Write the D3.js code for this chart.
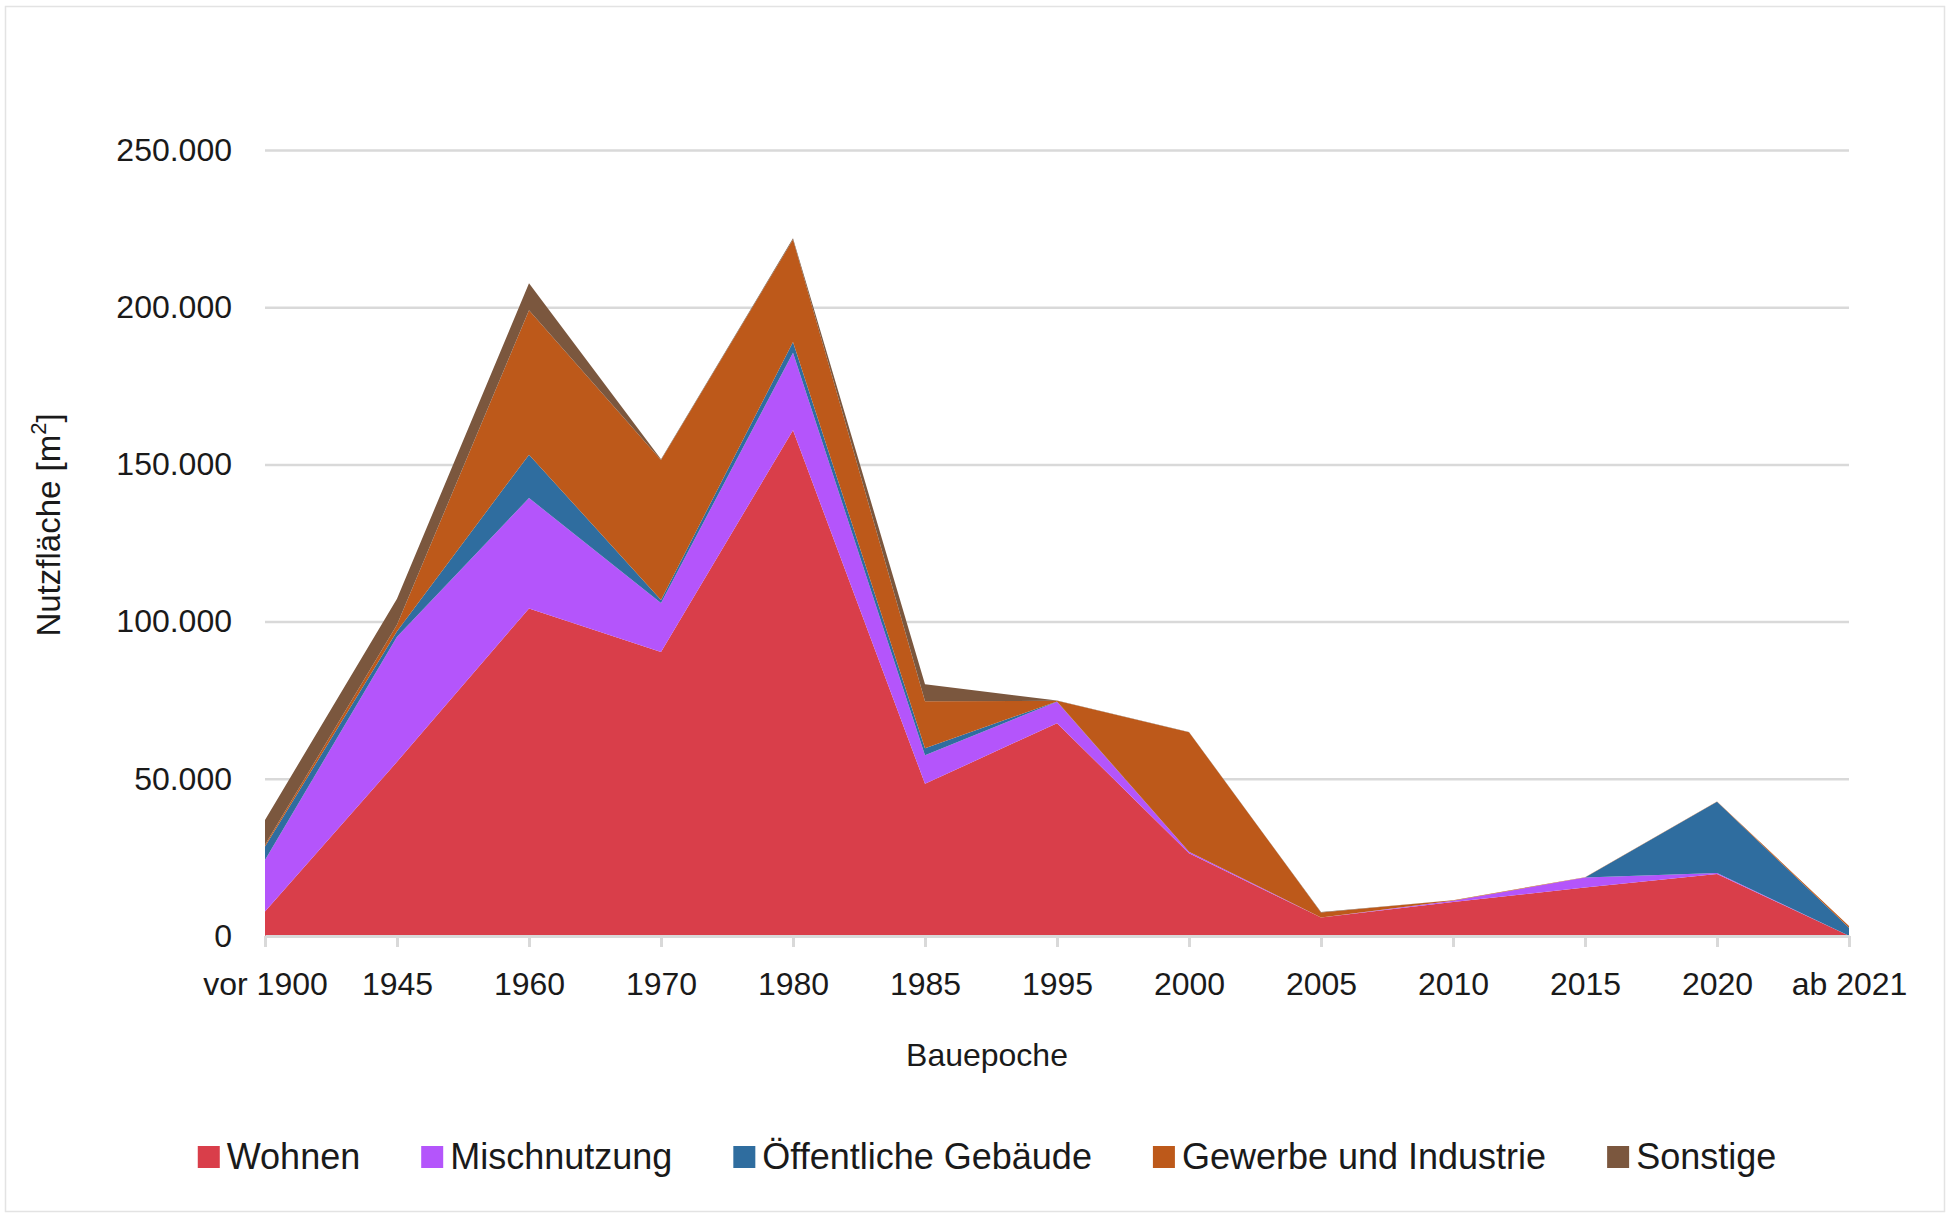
<!DOCTYPE html>
<html>
<head>
<meta charset="utf-8">
<script src="https://cdn.jsdelivr.net/npm/d3@7"></script>
<style>
  body { margin: 0; background: #fff; }
  text { font-family: "Liberation Sans", Arial, sans-serif; fill: #1a1a1a; }
</style>
</head>
<body>
<div id="chart"></div>
<script>
// Bauepochen (x-Achse)
const epochs = ['vor 1900', '1945', '1960', '1970', '1980', '1985', '1995', '2000', '2005', '2010', '2015', '2020', 'ab 2021'];

// Nutzfläche je Nutzungsart [m²]
const wohnen    = [7800, 55400, 104200, 90300, 160900, 48400, 67700, 26300, 5900, 10800, 15400, 19700, 100];
const misch     = [16400, 39800, 35100, 15600, 24600, 9100, 6800, 500, 0, 400, 3200, 300, 0];
const oeffentl  = [4300, 1700, 13800, 1000, 3400, 2200, 100, 0, 0, 0, 0, 22700, 2500];
const gewerbe   = [500, 2100, 45900, 44500, 32600, 15000, 200, 38000, 1600, 200, 100, 100, 600];
const sonstige  = [7900, 8300, 8600, 200, 400, 5400, 100, 100, 100, 0, 0, 0, 0];

const seriesNames = ['Wohnen', 'Mischnutzung', 'Öffentliche Gebäude', 'Gewerbe und Industrie', 'Sonstige'];
const seriesColors = ['#d93e4a', '#b455fb', '#2f6d9f', '#bd591a', '#7b573e'];
const yTicks = [0, 50000, 100000, 150000, 200000, 250000];

const width = 1950, height = 1217;
const plot = {left: 265, right: 1849, top: 150, bottom: 936};

const rows = epochs.map((e, i) => ({
    epoch: e,
    'Wohnen': wohnen[i],
    'Mischnutzung': misch[i],
    'Öffentliche Gebäude': oeffentl[i],
    'Gewerbe und Industrie': gewerbe[i],
    'Sonstige': sonstige[i]
}));

const de = d3.formatLocale({decimal: ',', thousands: '.', grouping: [3], currency: ['', ' €']});
const fmt = de.format(',d');

const x = d3.scalePoint().domain(epochs).range([plot.left, plot.right]).padding(0);
const y = d3.scaleLinear().domain([0, 250000]).range([plot.bottom, plot.top]);

const svg = d3.select('#chart').append('svg').attr('width', width).attr('height', height);

svg.append('rect')
    .attr('x', 5.5).attr('y', 6.5).attr('width', 1939).attr('height', 1205)
    .attr('fill', '#fff').attr('stroke', '#e3e3e3').attr('stroke-width', 1.5);

// Gitternetz + y-Beschriftung
const yAxis = d3.axisLeft(y).tickValues(yTicks).tickFormat(fmt)
    .tickSize(-(plot.right - plot.left)).tickPadding(33);
const gy = svg.append('g').attr('transform', 'translate(' + plot.left + ',0)').call(yAxis);
gy.select('.domain').remove();
gy.selectAll('.tick line').attr('stroke', '#d9d9d9').attr('stroke-width', 2.5);
gy.selectAll('.tick text').attr('font-size', 32).attr('fill', '#1a1a1a').attr('dy', '0.32em')
    .style('font-family', '"Liberation Sans", Arial, sans-serif');

// gestapelte Flächen
const stack = d3.stack().keys(seriesNames);
const layers = stack(rows);

const area = d3.area()
    .x((d) => x(d.data.epoch))
    .y0((d) => y(d[0]))
    .y1((d) => y(d[1]));

svg.append('g').selectAll('path')
    .data(layers)
    .join('path')
    .attr('d', area)
    .attr('fill', (d, i) => seriesColors[i]);

// x-Achse
const xAxis = d3.axisBottom(x).tickSize(11).tickSizeOuter(0).tickPadding(25);
const gx = svg.append('g').attr('transform', 'translate(0,' + plot.bottom + ')').call(xAxis);
gx.select('.domain').attr('stroke', '#d9d9d9').attr('stroke-width', 3);
gx.selectAll('.tick line').attr('stroke', '#d9d9d9').attr('stroke-width', 3);
gx.selectAll('.tick text').attr('font-size', 32).attr('fill', '#1a1a1a')
    .style('font-family', '"Liberation Sans", Arial, sans-serif');

// Achsentitel
svg.append('text')
    .attr('x', 987).attr('y', 1066)
    .attr('text-anchor', 'middle')
    .attr('font-size', 32)
    .text('Bauepoche');

const yTitle = svg.append('text')
    .attr('transform', 'translate(60,525) rotate(-90)')
    .attr('text-anchor', 'middle')
    .attr('font-size', 33);
yTitle.append('tspan').text('Nutzfläche [m');
yTitle.append('tspan').attr('font-size', 22).attr('dy', -14).text('2');
yTitle.append('tspan').attr('dy', 14).text(']');

// Legende
const legend = svg.append('g');
const items = legend.selectAll('g')
    .data(seriesNames)
    .join('g');
items.append('rect')
    .attr('width', 22).attr('height', 22)
    .attr('y', 1146)
    .attr('fill', (d, i) => seriesColors[i]);
items.append('text')
    .attr('x', 29).attr('y', 1169)
    .attr('font-size', 36)
    .text((d) => d);

let offset = 0;
const positions = [];
items.each(function () {
    const w = 29 + d3.select(this).select('text').node().getComputedTextLength();
    positions.push(offset);
    offset += w + 61;
});
const total = offset - 61;
const start = 987 - total / 2;
items.attr('transform', (d, i) => 'translate(' + (start + positions[i]) + ',0)');
</script>
</body>
</html>
